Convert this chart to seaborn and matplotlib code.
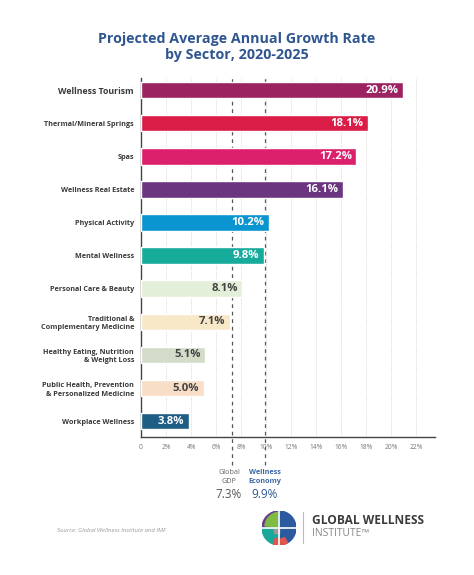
import matplotlib
matplotlib.use("Agg")
import seaborn as sb
from matplotlib import pyplot as plt
from matplotlib.patches import Wedge, Rectangle

sectors = ["Wellness Tourism", "Thermal/Mineral Springs", "Spas", "Wellness Real Estate",
           "Physical Activity", "Mental Wellness", "Personal Care & Beauty",
           "Traditional &\nComplementary Medicine", "Healthy Eating, Nutrition\n& Weight Loss",
           "Public Health, Prevention\n& Personalized Medicine", "Workplace Wellness"]
growth = [20.9, 18.1, 17.2, 16.1, 10.2, 9.8, 8.1, 7.1, 5.1, 5.0, 3.8]
colors = ["#9c2362", "#d91d46", "#dd206c", "#6b3580", "#0a95d1", "#17ab9b",
          "#e3efd8", "#f9e8c8", "#d2dcc8", "#f8dec7", "#1e5d84"]
label_dark = [False] * 6 + [True] * 4 + [False]
xticks = [0, 2, 4, 6, 8, 10, 12, 14, 16, 18, 20, 22]
xtick_labels = ["0"] + [f"{t}%" for t in xticks[1:]]
gdp, wellness_econ = 7.3, 9.9

sb.set_style("white")
plt.rcParams["font.family"] = ["Open Sans", "DejaVu Sans"]

fig = plt.figure(figsize=(4.74, 5.75), dpi=100)
ax = fig.add_axes([0.2975, 0.24, 0.6205, 0.624])

sb.barplot(x=growth, y=sectors, hue=sectors, palette=colors, legend=False,
           orient="h", width=0.5, saturation=1, ax=ax, zorder=3)

ax.set_xlim(0, 23.5)
ax.set_ylim(10.48, -0.36)
ax.set_xticks(xticks)
ax.set_xticklabels(xtick_labels, fontsize=4.8, color="#777777")
ax.tick_params(axis="x", length=0, pad=5)
ax.tick_params(axis="y", length=0, pad=5)
for i, lab in enumerate(ax.get_yticklabels()):
    lab.set_fontsize(6.3 if i == 0 else 5.2)
    lab.set_fontweight("bold")
    lab.set_color("#3a3a3a")
    lab.set_linespacing(1.3)

for x in xticks[1:]:
    ax.axvline(x, color="#cccccc", lw=0.6, ls=(0, (1, 1.5)), zorder=1)
sb.despine(ax=ax, top=True, right=True)
ax.spines["left"].set_color("#444444")
ax.spines["bottom"].set_color("#444444")
ax.spines["left"].set_linewidth(1.0)
ax.spines["bottom"].set_linewidth(1.0)

for i, (v, dark) in enumerate(zip(growth, label_dark)):
    ax.text(v - 0.35, i, f"{v:.1f}%", ha="right", va="center", fontsize=8.2,
            fontweight="bold", color="#444444" if dark else "white", zorder=4)

ax.axvline(gdp, ymin=-0.078, ymax=1, color="#555555", lw=0.9, ls=(0, (3, 3)),
           clip_on=False, zorder=2)
ax.axvline(wellness_econ, ymin=-0.078, ymax=1, color="#3a5f96", lw=0.9, ls=(0, (3, 3)),
           clip_on=False, zorder=2)

# annotations below axis
fig.text(229 / 474, 1 - 477 / 575, "Global\nGDP", ha="center", va="center",
         fontsize=5.2, color="#666666", linespacing=1.4)
fig.text(265 / 474, 1 - 477 / 575, "Wellness\nEconomy", ha="center", va="center",
         fontsize=5.2, color="#3c68a8", fontweight="bold", linespacing=1.4)
fig.text(229 / 474, 1 - 494 / 575, f"{gdp}%", ha="center", va="center",
         fontsize=8.5, color="#555555")
fig.text(265 / 474, 1 - 494 / 575, f"{wellness_econ}%", ha="center", va="center",
         fontsize=8.5, color="#2e5690")

fig.text(0.5, 1 - 47 / 575, "Projected Average Annual Growth Rate\nby Sector, 2020-2025",
         ha="center", va="center", fontsize=10.3, fontweight="bold",
         color="#2f5690", linespacing=1.25)

fig.text(57 / 474, 1 - 530 / 575, "Source: Global Wellness Institute and IMF",
         ha="left", va="center", fontsize=4.3, style="italic", color="#999999")

# logo
lax = fig.add_axes([262 / 474, 1 - 545 / 575, 34 / 474, 34 / 575])
lax.set_xlim(-1, 1)
lax.set_ylim(-1, 1)
lax.set_aspect("equal")
lax.axis("off")
lax.add_patch(Wedge((0, 0), 1, 90, 180, color="#6b3a8c"))
lax.add_patch(Wedge((0.05, 0.05), 0.88, 95, 175, color="#7dbb42"))
lax.add_patch(Wedge((0, 0), 1, -90, 90, color="#2c5a9e"))
lax.add_patch(Wedge((0, 0), 1, 180, 270, color="#1aa89a"))
lax.add_patch(Wedge((0, 0), 1, 250, 300, width=0.35, color="#e0574f"))
lax.add_patch(Rectangle((-0.3, -0.3), 0.3, 0.3, color="#999999"))
lax.plot([-1, 1], [0, 0], color="white", lw=1.2)
lax.plot([0, 0], [-1, 1], color="white", lw=1.2)

fig.add_artist(plt.Line2D([303 / 474, 303 / 474], [1 - 543 / 575, 1 - 512 / 575],
                          color="#bbbbbb", lw=0.8))
fig.text(312 / 474, 1 - 521 / 575, "GLOBAL WELLNESS", ha="left", va="center",
         fontsize=8.6, fontweight="bold", color="#3b3b3b")
fig.text(312 / 474, 1 - 534 / 575, "INSTITUTE\u2122", ha="left", va="center",
         fontsize=7.5, color="#888888")

fig.savefig("out.png", dpi=100)
